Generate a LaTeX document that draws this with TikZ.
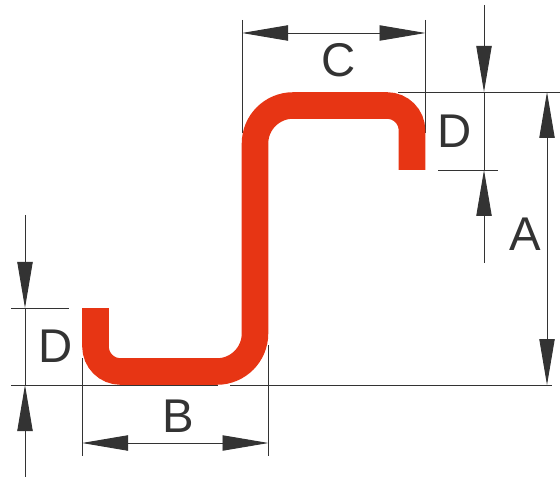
\documentclass[tikz,border=0pt]{standalone}
\usepackage{fontspec}
\setmainfont{Liberation Sans}
\usetikzlibrary{arrows.meta}
\definecolor{profilered}{HTML}{E73514}
\definecolor{dimgray}{HTML}{333333}
\tikzset{
  dimline/.style={draw=dimgray, line width=0.7pt},
  dimtip/.style={dimline, arrows={-{Triangle[length=34.5pt, width=11.5pt, fill=dimgray]}}},
  dimboth/.style={dimline, arrows={{Triangle[length=34.5pt, width=11.5pt, fill=dimgray]}-{Triangle[length=34.5pt, width=11.5pt, fill=dimgray]}}},
  dimlabel/.style={text=dimgray, font=\fontsize{35.5pt}{35.5pt}\selectfont, inner sep=0pt},
}
\begin{document}
\begin{tikzpicture}[x=0.75pt, y=-0.75pt]
      \useasboundingbox (0, 0) rectangle (560, 477);

      % extension lines
      \draw[dimline] (11, 308) -- (69, 308);
      \draw[dimline] (11, 385) -- (218, 385);
      \draw[dimline] (230, 385) -- (552, 385);
      \draw[dimline] (82, 358) -- (82, 456);
      \draw[dimline] (268.5, 345) -- (268.5, 456);
      \draw[dimline] (242, 20) -- (242, 133);
      \draw[dimline] (425.5, 20) -- (425.5, 133);
      \draw[dimline] (398, 92) -- (560, 92);
      \draw[dimline] (438, 170) -- (498, 170);

      % profile
      \draw[profilered, line width=19.9pt]
        (95.5, 308) -- (95.5, 340)
        [rounded corners=18.75pt] -- (95.5, 371.5) -- (150, 371.5)
        [rounded corners=28.5pt] -- (255, 371.5) -- (255, 230)
        -- (255, 105.5) -- (340, 105.5)
        [rounded corners=18.75pt] -- (412, 105.5) -- (412, 170);

      % dimensions
      \draw[dimline] (25, 308) -- (25, 385);
      \draw[dimline] (484, 92) -- (484, 170);
      \draw[dimtip] (25, 215) -- (25, 308);
      \draw[dimtip] (25, 477) -- (25, 385);
      \draw[dimboth] (82, 443) -- (268.5, 443);
      \draw[dimboth] (242, 33) -- (425.5, 33);
      \draw[dimtip] (484, 5) -- (484, 92);
      \draw[dimtip] (484, 263) -- (484, 170);
      \draw[dimboth] (547, 92) -- (547, 385);

      \node[dimlabel] (labelDleft) at (56, 346) {D};
      \node[dimlabel] (labelB) at (178, 416) {B};
      \node[dimlabel] (labelC) at (339, 60) {C};
      \node[dimlabel] (labelDright) at (455, 131) {D};
      \node[dimlabel] (labelA) at (525, 234) {A};
    \end{tikzpicture}
\end{document}
